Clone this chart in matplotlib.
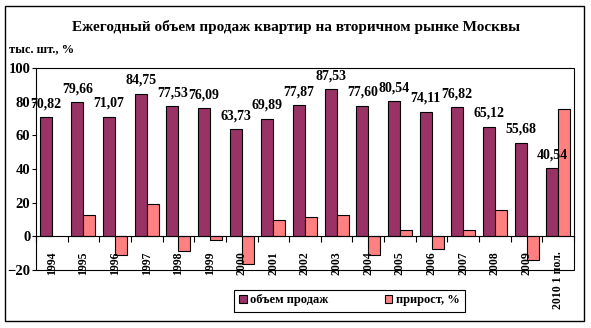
import numpy as np
import matplotlib
matplotlib.use('Agg')
import matplotlib.pyplot as plt
from matplotlib.patches import Rectangle

plt.rcParams['font.family'] = ['Liberation Serif', 'DejaVu Serif']
plt.rcParams['font.weight'] = 'bold'

years = ['1994', '1995', '1996', '1997', '1998', '1999', '2000', '2001', '2002',
         '2003', '2004', '2005', '2006', '2007', '2008', '2009', '2010 1 пол.']
sales = [70.82, 79.66, 71.07, 84.75, 77.53, 76.09, 63.73, 69.89, 77.87,
         87.53, 77.60, 80.54, 74.11, 76.82, 65.12, 55.68, 40.54]
growth = [np.nan, 12.5, -10.8, 19.3, -8.5, -1.9, -16.2, 9.8, 11.6,
          12.7, -11.0, 3.9, -7.5, 3.9, 15.8, -14.3, 75.5]

fig = plt.figure(figsize=(5.91, 3.28), dpi=100)
ax = fig.add_axes([36 / 591, 1 - 270 / 328, 538 / 591, 202 / 328])

x = np.arange(len(years))
w = 0.38
ax.bar(x - w / 2, sales, w, color='#993366', edgecolor='black', linewidth=0.8, label='объем продаж')
ax.bar(x + w / 2, growth, w, color='#FF8080', edgecolor='black', linewidth=0.8, label='прирост, %')

# value labels over the sales bars (comma decimals)
for xi, v in zip(x, sales):
    ax.annotate(f"{v:.2f}".replace('.', ','), (xi - w / 2, v), xytext=(0, 7),
                textcoords='offset points', ha='center', va='baseline', fontsize=10)

ax.set_xlim(-0.5, len(years) - 0.5)
ax.set_ylim(-20, 100)
ax.set_yticks(range(-20, 101, 20))
ax.tick_params(axis='y', length=3, width=0.8, pad=1, labelsize=10.5)

# category axis sits on zero, ticks between categories
ax.spines['bottom'].set_position(('data', 0))
ax.set_xticks(np.arange(len(years) + 1) - 0.5)
ax.set_xticklabels([])
ax.tick_params(axis='x', which='major', length=4, width=0.8)
ax.set_xticks(x, minor=True)
ax.set_xticklabels(years, minor=True, rotation=90, fontsize=8.5)
ax.tick_params(axis='x', which='minor', length=0, pad=11)

for s in ['top', 'left', 'right']:
    ax.spines[s].set_visible(False)
ax.add_patch(Rectangle((0, 0), 1, 1, transform=ax.transAxes, fill=False,
                       lw=0.8, edgecolor='black', clip_on=False))

fig.text(295.5 / 591, 1 - 27 / 328, 'Ежегодный объем продаж квартир на вторичном рынке Москвы',
         ha='center', va='center', fontsize=11)
fig.text(9 / 591, 1 - 49 / 328, 'тыс. шт., %', ha='left', va='center', fontsize=9)

leg = fig.legend(loc='center', bbox_to_anchor=(349.5 / 591, 1 - 300.5 / 328), ncol=2,
                 fancybox=False, edgecolor='black', framealpha=1, fontsize=9,
                 handlelength=0.6, handleheight=0.6, handletextpad=0.3,
                 columnspacing=4.5, borderpad=0.4)
leg.get_frame().set_linewidth(0.8)

fig.patches.append(Rectangle((5 / 591, 7 / 328), 579 / 591, 315 / 328,
                             transform=fig.transFigure, fill=False, lw=1, edgecolor='black'))

fig.savefig('out.png', dpi=100)
